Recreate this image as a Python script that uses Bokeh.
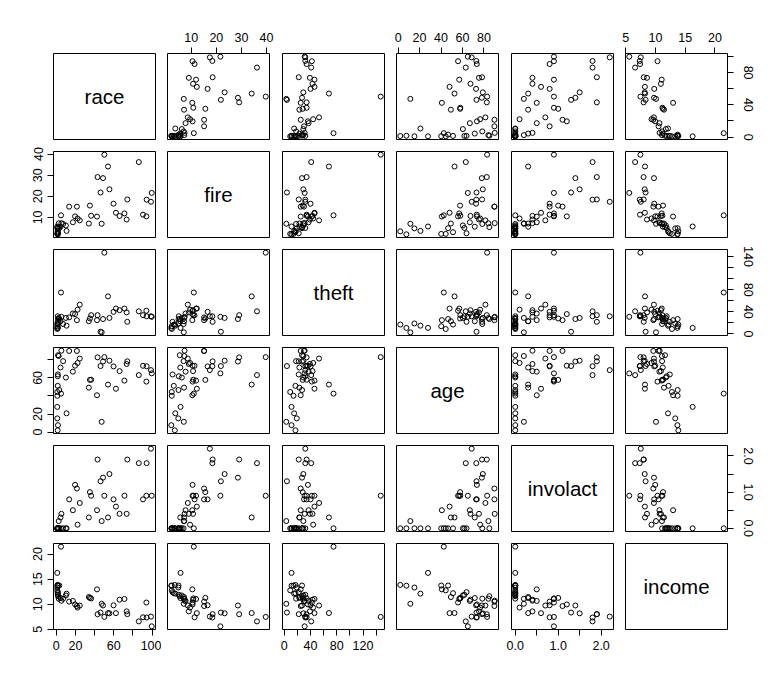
from bokeh.plotting import figure
from bokeh.layouts import column, row
from bokeh.models import Range1d, FixedTicker
from bokeh.core.properties import value
from bokeh.embed import file_html
from bokeh.resources import INLINE

# ---- data (Chicago insurance redlining, 47 ZIP codes) ----
race = [10.0, 22.2, 19.6, 17.3, 24.5, 54.0, 4.9, 7.1, 5.3, 21.5, 43.1, 1.1, 1.0, 1.7, 1.6, 1.5,
        1.8, 1.0, 2.5, 13.4, 59.8, 94.4, 86.2, 50.2, 74.2, 55.5, 62.3, 4.4, 46.2, 99.7, 73.5,
        10.7, 1.5, 48.8, 98.9, 90.6, 1.4, 71.2, 94.1, 66.1, 36.4, 1.0, 42.5, 35.1, 47.4, 34.0, 3.1]
fire = [6.2, 9.5, 10.5, 7.7, 8.6, 34.1, 11.0, 6.9, 7.3, 15.1, 29.1, 2.2, 5.7, 2.0, 2.5, 3.0,
        5.4, 2.2, 7.2, 15.1, 16.5, 18.4, 36.2, 39.7, 18.5, 23.3, 12.2, 5.6, 21.8, 21.6, 9.0,
        3.6, 5.0, 28.6, 17.4, 11.3, 3.4, 11.9, 10.5, 10.7, 10.8, 4.8, 10.4, 15.6, 7.0, 7.1, 4.9]
theft = [29, 44, 36, 37, 53, 68, 75, 18, 31, 25, 34, 14, 11, 11, 22, 17,
         27, 9, 29, 30, 40, 32, 41, 147, 22, 29, 46, 23, 4, 31, 39,
         15, 32, 27, 32, 34, 17, 46, 42, 43, 34, 19, 25, 28, 3, 23, 27]
age = [60.4, 76.5, 73.5, 66.9, 81.4, 52.6, 42.6, 78.5, 90.1, 89.8, 82.7, 40.2, 27.9, 7.7, 63.8, 51.2,
       85.1, 44.4, 84.2, 89.8, 72.7, 72.9, 63.1, 83.0, 78.3, 79.0, 48.0, 71.5, 73.1, 65.0, 75.4,
       20.8, 61.8, 78.1, 68.6, 73.4, 2.0, 57.0, 55.9, 67.5, 58.0, 15.2, 40.8, 57.8, 11.4, 49.2, 46.6]
involact = [0.0, 0.1, 1.2, 0.5, 0.7, 0.3, 0.0, 0.0, 0.4, 1.1, 1.9, 0.0, 0.0, 0.0, 0.0, 0.0,
            0.0, 0.0, 0.2, 0.8, 0.8, 1.8, 1.8, 0.9, 1.9, 1.5, 0.6, 0.3, 1.3, 0.9, 0.4,
            0.0, 0.0, 1.4, 2.2, 0.8, 0.0, 0.9, 0.9, 0.4, 0.9, 0.0, 0.5, 1.0, 0.2, 0.3, 0.0]
income = [11.744, 9.323, 9.948, 10.656, 9.730, 8.231, 21.480, 11.104, 10.694, 9.631, 7.995, 13.722,
          16.250, 13.686, 12.405, 12.198, 11.600, 12.765, 11.084, 10.510, 9.784, 7.342, 6.565, 7.459,
          8.014, 8.177, 8.212, 11.230, 8.330, 5.583, 8.564, 12.102, 11.876, 9.742, 7.520, 7.388,
          13.842, 11.040, 10.332, 10.908, 11.156, 13.323, 12.960, 11.260, 10.080, 11.428, 13.731]

var_names = ["race", "fire", "theft", "age", "involact", "income"]
series = [race, fire, theft, age, involact, income]

# tick positions and labels shown on each side ("" = tick without label)
tick_values = {
    "race": [0, 20, 40, 60, 80, 100],
    "fire": [10, 20, 30, 40],
    "theft": [0, 20, 40, 60, 80, 100, 120, 140],
    "age": [0, 20, 40, 60, 80],
    "involact": [0, 0.5, 1.0, 1.5, 2.0],
    "income": [5, 10, 15, 20],
}
labels_bottom = {
    "race": ["0", "20", "", "60", "", "100"],
    "theft": ["0", "", "40", "", "80", "", "120", ""],
    "involact": ["0.0", "", "1.0", "", "2.0"],
}
labels_right = {
    "race": ["0", "", "40", "", "80", ""],
    "theft": ["0", "", "40", "", "80", "", "", "140"],
    "involact": ["0.0", "", "1.0", "", "2.0"],
}
labels_top = {
    "fire": ["10", "20", "30", "40"],
    "age": ["0", "20", "40", "60", "80"],
    "income": ["5", "10", "15", "20"],
}
labels_left = {
    "fire": ["10", "20", "30", "40"],
    "age": ["0", "20", "", "60", ""],
    "income": ["5", "10", "15", "20"],
}

# ---- layout geometry ----
FW, FH = 102, 86
col_l = [53, 6, 7, 6, 7, 6]
col_r = [6, 6, 6, 6, 6, 46]
row_t = [53, 6, 6, 6, 6, 6]
row_b = [6, 6, 6, 6, 6, 40]

FONT = "Liberation Sans"


def padded(v):
    lo, hi = min(v), max(v)
    d = (hi - lo) * 0.04
    return lo - d, hi + d


def style_axis(ax, name, labels, vertical=False, standoff=3):
    ticks = tick_values[name]
    ax.ticker = FixedTicker(ticks=ticks)
    ax.major_label_overrides = {t: l for t, l in zip(ticks, labels)}
    ax.minor_tick_line_color = None
    ax.major_tick_in = 0
    ax.major_tick_out = 6
    ax.major_tick_line_color = "black"
    ax.axis_line_color = None
    ax.major_label_text_font = FONT
    ax.major_label_text_font_size = "12.5px"
    ax.major_label_text_color = "black"
    ax.major_label_standoff = standoff
    if vertical:
        ax.major_label_orientation = "vertical"


rows = []
for i in range(6):
    figs = []
    for j in range(6):
        xloc = None
        yloc = None
        if i == 0 and j % 2 == 1:
            xloc = "above"
        if i == 5 and j % 2 == 0:
            xloc = "below"
        if j == 0 and i % 2 == 1:
            yloc = "left"
        if j == 5 and i % 2 == 0:
            yloc = "right"
        if i == j:
            xr, yr = Range1d(0, 1), Range1d(0, 1)
        else:
            xr = Range1d(*padded(series[j]))
            yr = Range1d(*padded(series[i]))
        p = figure(width=col_l[j] + FW + col_r[j], height=row_t[i] + FH + row_b[i],
                   x_range=xr, y_range=yr, x_axis_location=xloc, y_axis_location=yloc,
                   output_backend="svg", toolbar_location=None,
                   min_border_left=col_l[j], min_border_right=col_r[j],
                   min_border_top=row_t[i], min_border_bottom=row_b[i])
        p.xgrid.visible = False
        p.ygrid.visible = False
        p.outline_line_color = "black"
        p.outline_line_width = 1
        p.outline_line_alpha = 1
        p.background_fill_color = "white"
        p.border_fill_color = "white"
        if i == j:
            p.text(x=[0.5], y=[0.5], text=[var_names[i]], text_align="center",
                   text_baseline="middle", text_font=value(FONT),
                   text_font_size="20.5px", text_color="black")
        else:
            p.scatter(series[j], series[i], marker="circle", size=5,
                      fill_color=None, line_color="black", line_width=1)
        if xloc == "above":
            style_axis(p.above[0], var_names[j], labels_top[var_names[j]], standoff=6)
        if xloc == "below":
            style_axis(p.below[0], var_names[j], labels_bottom[var_names[j]], standoff=5)
        if yloc == "left":
            style_axis(p.left[0], var_names[i], labels_left[var_names[i]], vertical=True,
                       standoff=5)
        if yloc == "right":
            style_axis(p.right[0], var_names[i], labels_right[var_names[i]], vertical=True,
                       standoff=10)
        figs.append(p)
    rows.append(row(*figs))

layout = column(*rows)
open("out.html", "w").write(file_html(layout, INLINE))
